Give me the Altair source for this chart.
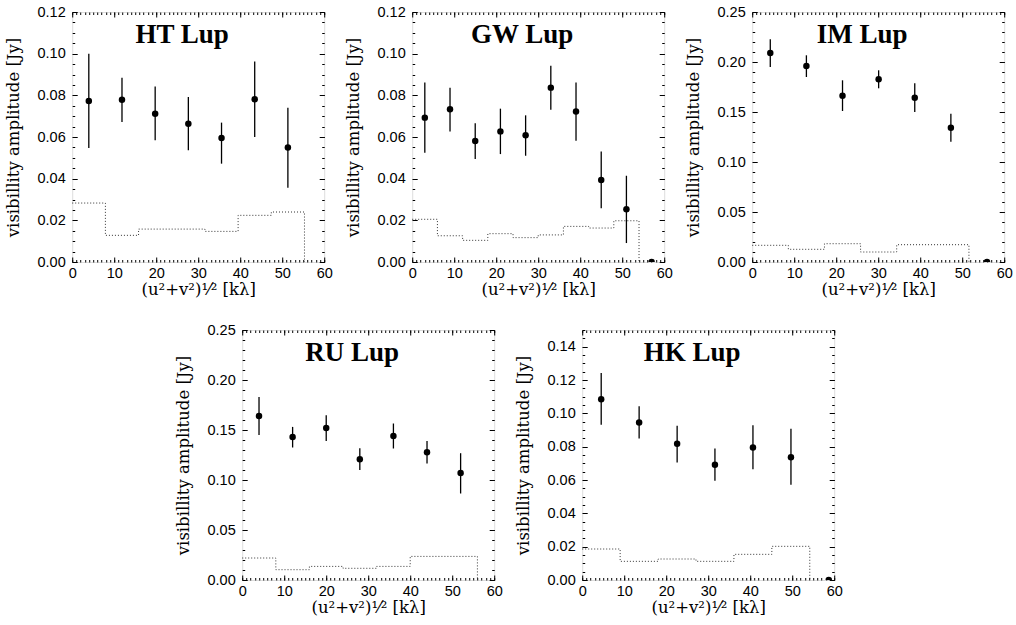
import altair as alt
import pandas as pd

# ---------------- data ----------------
names = ["HT Lup", "GW Lup", "IM Lup", "RU Lup", "HK Lup"]

ht_x = [3.95, 11.85, 19.75, 27.65, 35.55, 43.45, 51.35]
ht_y = [0.0773, 0.0779, 0.0712, 0.0664, 0.0595, 0.0781, 0.0550]
ht_lo = [0.0547, 0.0672, 0.0584, 0.0536, 0.0472, 0.0600, 0.0357]
ht_hi = [0.1000, 0.0885, 0.0843, 0.0792, 0.0669, 0.0963, 0.0741]
ht_zero = []
ht_edges = [0, 7.9, 15.8, 23.7, 31.6, 39.5, 47.4, 55.3]
ht_noise = [0.0283, 0.0128, 0.0158, 0.0158, 0.0147, 0.0224, 0.0240]

gw_x = [3, 9, 15, 21, 27, 33, 39, 45, 51]
gw_y = [0.0693, 0.0733, 0.0581, 0.0627, 0.0608, 0.0837, 0.0722, 0.0394, 0.0253]
gw_lo = [0.0525, 0.0627, 0.0494, 0.0518, 0.0510, 0.0731, 0.0582, 0.0258, 0.0091]
gw_hi = [0.0862, 0.0837, 0.0666, 0.0736, 0.0704, 0.0942, 0.0862, 0.0531, 0.0414]
gw_zero = [57]
gw_edges = [0, 6, 12, 18, 24, 30, 36, 42, 48, 54]
gw_noise = [0.0205, 0.0126, 0.0104, 0.0136, 0.0117, 0.0130, 0.0171, 0.0163, 0.0198]

im_x = [4.3, 12.9, 21.5, 30.1, 38.7, 47.3]
im_y = [0.209, 0.196, 0.1663, 0.1827, 0.1643, 0.1343]
im_lo = [0.195, 0.185, 0.151, 0.1737, 0.150, 0.1203]
im_hi = [0.2227, 0.2067, 0.1817, 0.1917, 0.1787, 0.1483]
im_zero = [55.9]
im_edges = [0, 8.6, 17.2, 25.8, 34.4, 43.0, 51.6]
im_noise = [0.0167, 0.0127, 0.0183, 0.0100, 0.0173, 0.0173]

ru_x = [4, 12, 20, 28, 36, 44, 52]
ru_y = [0.1641, 0.1431, 0.1521, 0.1208, 0.1441, 0.1278, 0.1069]
ru_lo = [0.1451, 0.1325, 0.1391, 0.1099, 0.1315, 0.1165, 0.0865]
ru_hi = [0.1831, 0.1531, 0.1648, 0.1318, 0.1565, 0.1391, 0.1268]
ru_zero = []
ru_edges = [0, 8, 16, 24, 32, 40, 48, 56]
ru_noise = [0.0220, 0.0103, 0.0136, 0.0117, 0.0136, 0.0236, 0.0236]

hk_x = [4.52, 13.55, 22.6, 31.6, 40.65, 49.7]
hk_y = [0.1084, 0.0945, 0.0817, 0.0691, 0.0795, 0.0737]
hk_lo = [0.0931, 0.0849, 0.0705, 0.0595, 0.0665, 0.0571]
hk_hi = [0.1242, 0.1043, 0.0925, 0.0789, 0.0929, 0.0907]
hk_zero = [58.7]
hk_edges = [0, 9.03, 18.06, 27.09, 36.12, 45.15, 54.18]
hk_noise = [0.0186, 0.0112, 0.0126, 0.0112, 0.0154, 0.0202]

x_major = [0, 10, 20, 30, 40, 50, 60]
x_minor = list(range(0, 61))
y_major_012 = [0.00, 0.02, 0.04, 0.06, 0.08, 0.10, 0.12]
y_major_025 = [0.00, 0.05, 0.10, 0.15, 0.20, 0.25]
y_major_014 = [0.00, 0.02, 0.04, 0.06, 0.08, 0.10, 0.12, 0.14]

X_TITLE = "(u\u00b2+v\u00b2)\u00b9\u2044\u00b2  [k\u03bb]"
Y_TITLE = "visibillity amplitude [Jy]"

SANS = "Liberation Sans"
SERIF = "DejaVu Serif"
TSERIF = "Liberation Serif"

W, H = 252, 250
MAJ, MIN = 5, 2.5


def minor_ticks(ymax, step):
    n = int(round(ymax / step))
    return [round(i * step, 4) for i in range(n + 1)]


def axis(orient, values, size, labels=False, title=None, fmt=None):
    kw = dict(orient=orient, values=values, tickSize=size, offset=-size,
              domain=False, grid=False, ticks=True, tickColor="black",
              tickWidth=1, labels=labels, title=title)
    if labels:
        kw.update(labelFont=SANS, labelFontSize=14.5, labelColor="black",
                  labelOverlap=False, labelFlush=False, labelBound=False)
        if orient in ("left", "right"):
            kw.update(labelPadding=7)
        else:
            kw.update(labelPadding=4)
        if fmt:
            kw["format"] = fmt
    if title is not None:
        kw.update(titleFont=SERIF, titleFontSize=16.5, titleFontWeight="normal",
                  titleColor="black")
        kw.update(titlePadding=15 if orient == "left" else 2)
    return alt.Axis(**kw)


def panel(name, px, py, plo, phi, pz, edges, noise, ymax, ymajor, ystep):
    pts = pd.DataFrame({"x": px + pz, "y": py + [0.0] * len(pz)})
    err = pd.DataFrame({"x": px, "lo": plo, "hi": phi})
    step = pd.DataFrame({"x": edges, "y": noise + [0.0]})
    lab = pd.DataFrame({"name": [name]})
    xs = alt.Scale(domain=[0, 60], nice=False, zero=False)
    ys = alt.Scale(domain=[0, ymax], nice=False, zero=False)
    yminor = minor_ticks(ymax, ystep)

    step_layer = alt.Chart(step).mark_line(
        interpolate="step-after", color="#333333", strokeWidth=1,
        strokeDash=[1, 2]).encode(
        x=alt.X("x:Q", scale=xs, axis=axis("bottom", x_major, MAJ, True, X_TITLE, "d")),
        y=alt.Y("y:Q", scale=ys, axis=axis("left", ymajor, MAJ, True, Y_TITLE, ".2f")),
    )
    err_layer = alt.Chart(err).mark_rule(color="black", strokeWidth=1.3).encode(
        x=alt.X("x:Q", scale=xs, axis=axis("bottom", x_minor, MIN)),
        y=alt.Y("lo:Q", scale=ys, axis=axis("left", yminor, MIN)),
        y2="hi:Q",
    )
    pt_layer = alt.Chart(pts).mark_circle(size=42, color="black", opacity=1,
                                          clip=True).encode(
        x=alt.X("x:Q", scale=xs, axis=axis("top", x_major, MAJ)),
        y=alt.Y("y:Q", scale=ys, axis=axis("right", ymajor, MAJ)),
    )
    ghost = alt.Chart(pts).mark_circle(size=1, opacity=0).encode(
        x=alt.X("x:Q", scale=xs, axis=axis("top", x_minor, MIN)),
        y=alt.Y("y:Q", scale=ys, axis=axis("right", yminor, MIN)),
    )
    title = alt.Chart(lab).mark_text(
        font=TSERIF, fontSize=27, fontWeight="bold", color="black",
        align="center", baseline="alphabetic").encode(
        text="name:N", x=alt.value(W / 2 - 16), y=alt.value(31))
    return alt.layer(step_layer, err_layer, pt_layer, ghost, title).resolve_axis(
        x="independent", y="independent"
    ).properties(width=W, height=H)


p1 = panel(names[0], ht_x, ht_y, ht_lo, ht_hi, ht_zero, ht_edges, ht_noise, 0.12, y_major_012, 0.005)
p2 = panel(names[1], gw_x, gw_y, gw_lo, gw_hi, gw_zero, gw_edges, gw_noise, 0.12, y_major_012, 0.005)
p3 = panel(names[2], im_x, im_y, im_lo, im_hi, im_zero, im_edges, im_noise, 0.25, y_major_025, 0.01)
p4 = panel(names[3], ru_x, ru_y, ru_lo, ru_hi, ru_zero, ru_edges, ru_noise, 0.25, y_major_025, 0.01)
p5 = panel(names[4], hk_x, hk_y, hk_lo, hk_hi, hk_zero, hk_edges, hk_noise, 0.15, y_major_014, 0.005)

top = alt.hconcat(p1, p2, p3, spacing=88, bounds="flush")
bottom = alt.hconcat(p4, p5, spacing=88, bounds="flush")
chart = alt.vconcat(top, bottom, spacing=22, center=True).configure_view(
    stroke="black", strokeWidth=1
).configure(background="white",
            padding={"left": 5, "top": 3, "right": 3, "bottom": 3})

chart.save("out.html", embed_options={"renderer": "svg", "actions": False})
